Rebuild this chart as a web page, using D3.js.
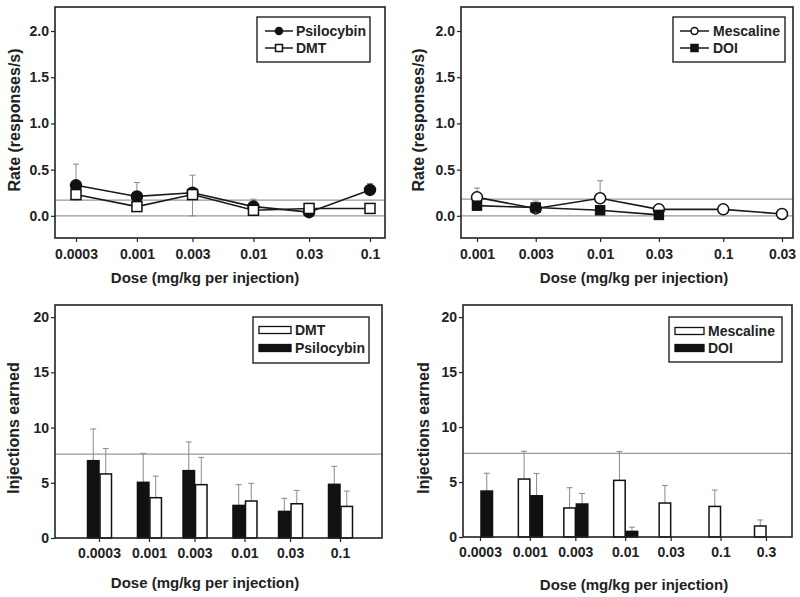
<!DOCTYPE html>
<meta charset="utf-8" />
<script src="https://d3js.org/d3.v7.min.js"></script>
<style>
  body { margin: 0; background: #fff; }
  svg text { font-family: "Liberation Sans", Arial, sans-serif; font-weight: bold; fill: #222; }
</style>
<body>
<svg id="chart" width="800" height="597"></svg>
<script>
// ---- top row: response rate (responses/s) ----
const rateDosesL = [0.0003, 0.001, 0.003, 0.01, 0.03, 0.1];
const rateLabelsL = ["0.0003", "0.001", "0.003", "0.01", "0.03", "0.1"];
const psiRate = [0.33, 0.21, 0.25, 0.10, 0.04, 0.28];
const psiRateSem = [0.23, 0.15, 0.19, 0.08, 0.02, 0.07];
const dmtRate = [0.23, 0.10, 0.23, 0.06, 0.08, 0.08];
const dmtRateSem = [0.06, 0.04, 0.23, 0.03, 0.02, 0.02];
const rateRefL = [0.17, 0];

const rateDosesR = [0.001, 0.003, 0.01, 0.03, 0.1, 0.3];
const rateLabelsR = ["0.001", "0.003", "0.01", "0.03", "0.1", "0.03"]; // last label printed as in the original
const mesRate = [0.20, 0.08, 0.19, 0.07, 0.07, 0.02];
const mesRateSem = [0.10, 0.08, 0.19, 0.02, 0.02, 0.01];
const doiRateDoses = [0.001, 0.003, 0.01, 0.03];
const doiRate = [0.11, 0.09, 0.06, 0.01];
const doiRateSem = [0.02, 0.02, 0.02, 0.01];
const rateRefR = [0.18, 0];

const rateTicks = [0, 0.5, 1, 1.5, 2];

// ---- bottom row: injections earned ----
const injDosesL = [0.0003, 0.001, 0.003, 0.01, 0.03, 0.1];
const injLabelsL = ["0.0003", "0.001", "0.003", "0.01", "0.03", "0.1"];
const psiInj = [7.0, 5.04, 6.1, 2.95, 2.41, 4.86];
const psiInjSem = [2.87, 2.62, 2.6, 1.88, 1.18, 1.63];
const dmtInj = [5.8, 3.65, 4.83, 3.35, 3.1, 2.86];
const dmtInjSem = [2.3, 1.95, 2.47, 1.6, 1.21, 1.39];

const injDosesR = [0.0003, 0.001, 0.003, 0.01, 0.03, 0.1, 0.3];
const injLabelsR = ["0.0003", "0.001", "0.003", "0.01", "0.03", "0.1", "0.3"];
const mesInjDoses = [0.001, 0.003, 0.01, 0.03, 0.1, 0.3];
const mesInj = [5.27, 2.64, 5.15, 3.09, 2.78, 1.0];
const mesInjSem = [2.53, 1.84, 2.63, 1.6, 1.49, 0.55];
const doiInjDoses = [0.0003, 0.001, 0.003, 0.01];
const doiInj = [4.18, 3.75, 3.0, 0.51];
const doiInjSem = [1.62, 2.03, 0.96, 0.39];

const injRef = 7.6;
const injTicks = [0, 5, 10, 15, 20];

const svg = d3.select("#chart");

function zip(doses, vals, sem) {
  return doses.map((d, i) => ({ dose: d, v: vals[i], e: sem[i] }));
}

function frameAndAxes(p) {
  const g = svg.append("g");
  const x = d3.scaleLog().domain(p.xDomain).range(p.xRange);
  const y = d3.scaleLinear().domain(p.yDomain).range([p.frame.y1, p.frame.y0]);

  // reference lines
  g.selectAll(".ref")
    .data(p.refs)
    .enter()
    .append("line")
    .attr("x1", p.frame.x0)
    .attr("x2", p.frame.x1)
    .attr("y1", (d) => y(d))
    .attr("y2", (d) => y(d))
    .attr("stroke", "#9a9a9a")
    .attr("stroke-width", 1.2);

  const yAxis = g.append("g")
    .attr("transform", `translate(${p.frame.x0},0)`)
    .call(d3.axisLeft(y).tickValues(p.yTicks).tickFormat(p.yFormat).tickSize(4).tickPadding(2));
  const xAxis = g.append("g")
    .attr("transform", `translate(0,${p.frame.y1})`)
    .call(d3.axisBottom(x).tickValues(p.xTicks).tickFormat((d, i) => p.xLabels[i]).tickSize(4).tickPadding(p.xPad));
  [yAxis, xAxis].forEach((a) => {
    a.select(".domain").remove();
    a.selectAll("line").attr("stroke", "#222").attr("stroke-width", 1.2);
    a.selectAll("text").attr("font-size", "14px").attr("fill", "#222");
  });

  g.append("text")
    .attr("transform", `translate(${p.yTitle[0]},${p.yTitle[1]}) rotate(-90)`)
    .attr("text-anchor", "middle")
    .attr("dy", "0.35em")
    .attr("font-size", p.yTitleSize)
    .text(p.yLabel);
  g.append("text")
    .attr("x", p.xTitle[0])
    .attr("y", p.xTitle[1])
    .attr("text-anchor", "middle")
    .attr("dy", "0.35em")
    .attr("font-size", "15px")
    .text("Dose (mg/kg per injection)");

  return { g, x, y };
}

function drawFrame(p) {
  svg.append("rect")
    .attr("x", p.frame.x0)
    .attr("y", p.frame.y0)
    .attr("width", p.frame.x1 - p.frame.x0)
    .attr("height", p.frame.y1 - p.frame.y0)
    .attr("fill", "none")
    .attr("stroke", "#222")
    .attr("stroke-width", 1.6);
}

function marker(sel, shape, fill, size) {
  if (shape === "circle") {
    sel.append("circle").attr("r", size / 2);
  } else {
    sel.append("rect").attr("x", -size / 2).attr("y", -size / 2).attr("width", size).attr("height", size);
  }
  sel.selectAll("circle,rect").attr("fill", fill).attr("stroke", "#111").attr("stroke-width", 1.5);
}

function linePanel(p) {
  const { g, x, y } = frameAndAxes(p);
  p.series.forEach((s) => {
    const pts = zip(s.doses, s.values, s.sem);
    // error bars
    const eb = g.selectAll(null).data(pts).enter().append("g");
    eb.append("line")
      .attr("x1", (d) => x(d.dose)).attr("x2", (d) => x(d.dose))
      .attr("y1", (d) => y(d.v)).attr("y2", (d) => y(d.v + s.dir * d.e))
      .attr("stroke", "#8a8a8a").attr("stroke-width", 1);
    eb.append("line")
      .attr("x1", (d) => x(d.dose) - 3).attr("x2", (d) => x(d.dose) + 3)
      .attr("y1", (d) => y(d.v + s.dir * d.e)).attr("y2", (d) => y(d.v + s.dir * d.e))
      .attr("stroke", "#8a8a8a").attr("stroke-width", 1);
    g.append("path")
      .datum(pts)
      .attr("fill", "none")
      .attr("stroke", "#1a1a1a")
      .attr("stroke-width", 1.6)
      .attr("d", d3.line().x((d) => x(d.dose)).y((d) => y(d.v)));
    g.selectAll(null).data(pts).enter().append("g")
      .attr("transform", (d) => `translate(${x(d.dose)},${y(d.v)})`)
      .each(function () { marker(d3.select(this), s.shape, s.fill, s.size); });
  });

  // legend
  const L = p.legend;
  const lg = svg.append("g").attr("transform", `translate(${L.x},${L.y})`);
  lg.append("rect").attr("width", L.w).attr("height", L.h)
    .attr("fill", "#fff").attr("stroke", "#222").attr("stroke-width", 1.4);
  p.series.forEach((s, i) => {
    const row = lg.append("g").attr("transform", `translate(0,${L.rows[i]})`);
    row.append("line").attr("x1", L.lx0).attr("x2", L.lx1).attr("stroke", "#1a1a1a").attr("stroke-width", 1.5);
    const m = row.append("g").attr("transform", `translate(${(L.lx0 + L.lx1) / 2},0)`);
    marker(m, s.shape, s.fill, 7);
    row.append("text").attr("x", L.tx).attr("dy", "0.36em").attr("font-size", "14px").text(s.name);
  });
  drawFrame(p);
}

function barPanel(p) {
  const { g, x, y } = frameAndAxes(p);
  const bw = 11.5;
  p.series.forEach((s) => {
    const pts = zip(s.doses, s.values, s.sem);
    const bx = (d) => (s.side < 0 ? x(d.dose) - bw : x(d.dose) + 1);
    const eb = g.selectAll(null).data(pts).enter().append("g");
    eb.append("line")
      .attr("x1", (d) => bx(d) + bw / 2).attr("x2", (d) => bx(d) + bw / 2)
      .attr("y1", (d) => y(d.v)).attr("y2", (d) => y(d.v + d.e))
      .attr("stroke", "#8a8a8a").attr("stroke-width", 1);
    eb.append("line")
      .attr("x1", (d) => bx(d) + bw / 2 - 3).attr("x2", (d) => bx(d) + bw / 2 + 3)
      .attr("y1", (d) => y(d.v + d.e)).attr("y2", (d) => y(d.v + d.e))
      .attr("stroke", "#8a8a8a").attr("stroke-width", 1);
    g.selectAll(null).data(pts).enter().append("rect")
      .attr("x", bx)
      .attr("y", (d) => y(d.v))
      .attr("width", bw)
      .attr("height", (d) => y(0) - y(d.v))
      .attr("fill", s.fill)
      .attr("stroke", "#111")
      .attr("stroke-width", 1.5);
  });

  const L = p.legend;
  const lg = svg.append("g").attr("transform", `translate(${L.x},${L.y})`);
  lg.append("rect").attr("width", L.w).attr("height", L.h)
    .attr("fill", "#fff").attr("stroke", "#222").attr("stroke-width", 1.4);
  p.legendOrder.forEach((s, i) => {
    const row = lg.append("g").attr("transform", `translate(0,${L.rows[i]})`);
    row.append("rect").attr("x", L.lx0).attr("y", -3.5).attr("width", L.lx1 - L.lx0).attr("height", 7)
      .attr("fill", s.fill).attr("stroke", "#111").attr("stroke-width", 1.3);
    row.append("text").attr("x", L.tx).attr("dy", "0.36em").attr("font-size", "14px").text(s.name);
  });
  drawFrame(p);
}

// ---- panel A: Psilocybin / DMT rate ----
linePanel({
  frame: { x0: 55, x1: 385, y0: 7, y1: 238 },
  xDomain: [0.0003, 0.1], xRange: [76, 370],
  xTicks: rateDosesL, xLabels: rateLabelsL, xPad: 7,
  yDomain: [-0.24, 2.26], yTicks: rateTicks, yFormat: d3.format(".1f"),
  refs: rateRefL,
  yLabel: "Rate (responses/s)", yTitle: [14, 120], yTitleSize: "16px",
  xTitle: [205, 278],
  series: [
    { name: "Psilocybin", doses: rateDosesL, values: psiRate, sem: psiRateSem, dir: 1, shape: "circle", fill: "#111", size: 11 },
    { name: "DMT", doses: rateDosesL, values: dmtRate, sem: dmtRateSem, dir: -1, shape: "square", fill: "#fff", size: 10 }
  ],
  legend: { x: 257, y: 17, w: 113, h: 45, rows: [14, 31], lx0: 8, lx1: 36, tx: 39 }
});

// ---- panel B: Mescaline / DOI rate ----
linePanel({
  frame: { x0: 461, x1: 793, y0: 7, y1: 238 },
  xDomain: [0.001, 0.3], xRange: [477, 782],
  xTicks: rateDosesR, xLabels: rateLabelsR, xPad: 7,
  yDomain: [-0.24, 2.26], yTicks: rateTicks, yFormat: d3.format(".1f"),
  refs: rateRefR,
  yLabel: "Rate (responses/s)", yTitle: [418, 120], yTitleSize: "16px",
  xTitle: [634, 278],
  series: [
    { name: "Mescaline", doses: rateDosesR, values: mesRate, sem: mesRateSem, dir: 1, shape: "circle", fill: "#fff", size: 11 },
    { name: "DOI", doses: doiRateDoses, values: doiRate, sem: doiRateSem, dir: 1, shape: "square", fill: "#111", size: 9 }
  ],
  legend: { x: 673, y: 17, w: 112, h: 45, rows: [14, 31], lx0: 7, lx1: 36, tx: 40 }
});

// ---- panel C: Psilocybin / DMT injections ----
const psiBars = { name: "Psilocybin", doses: injDosesL, values: psiInj, sem: psiInjSem, side: -1, fill: "#111" };
const dmtBars = { name: "DMT", doses: injDosesL, values: dmtInj, sem: dmtInjSem, side: 1, fill: "#fff" };
barPanel({
  frame: { x0: 55, x1: 382, y0: 305, y1: 538 },
  xDomain: [0.0003, 0.1], xRange: [99, 340],
  xTicks: injDosesL, xLabels: injLabelsL, xPad: 6,
  yDomain: [0, 21.1], yTicks: injTicks, yFormat: d3.format("d"),
  refs: [injRef],
  yLabel: "Injections earned", yTitle: [13, 428], yTitleSize: "16px",
  xTitle: [205, 583],
  series: [psiBars, dmtBars],
  legendOrder: [dmtBars, psiBars],
  legend: { x: 253, y: 317, w: 116, h: 46, rows: [13, 31], lx0: 6, lx1: 38, tx: 42 }
});

// ---- panel D: Mescaline / DOI injections ----
const mesBars = { name: "Mescaline", doses: mesInjDoses, values: mesInj, sem: mesInjSem, side: -1, fill: "#fff" };
const doiBars = { name: "DOI", doses: doiInjDoses, values: doiInj, sem: doiInjSem, side: 1, fill: "#111" };
barPanel({
  frame: { x0: 463, x1: 792, y0: 305, y1: 537 },
  xDomain: [0.0003, 0.3], xRange: [480, 766],
  xTicks: injDosesR, xLabels: injLabelsR, xPad: 6,
  yDomain: [0, 21.1], yTicks: injTicks, yFormat: d3.format("d"),
  refs: [injRef],
  yLabel: "Injections earned", yTitle: [423, 428], yTitleSize: "16px",
  xTitle: [634, 585],
  series: [mesBars, doiBars],
  legendOrder: [mesBars, doiBars],
  legend: { x: 669, y: 317, w: 113, h: 45, rows: [14, 31], lx0: 6, lx1: 35, tx: 39 }
});
</script>
</body>
